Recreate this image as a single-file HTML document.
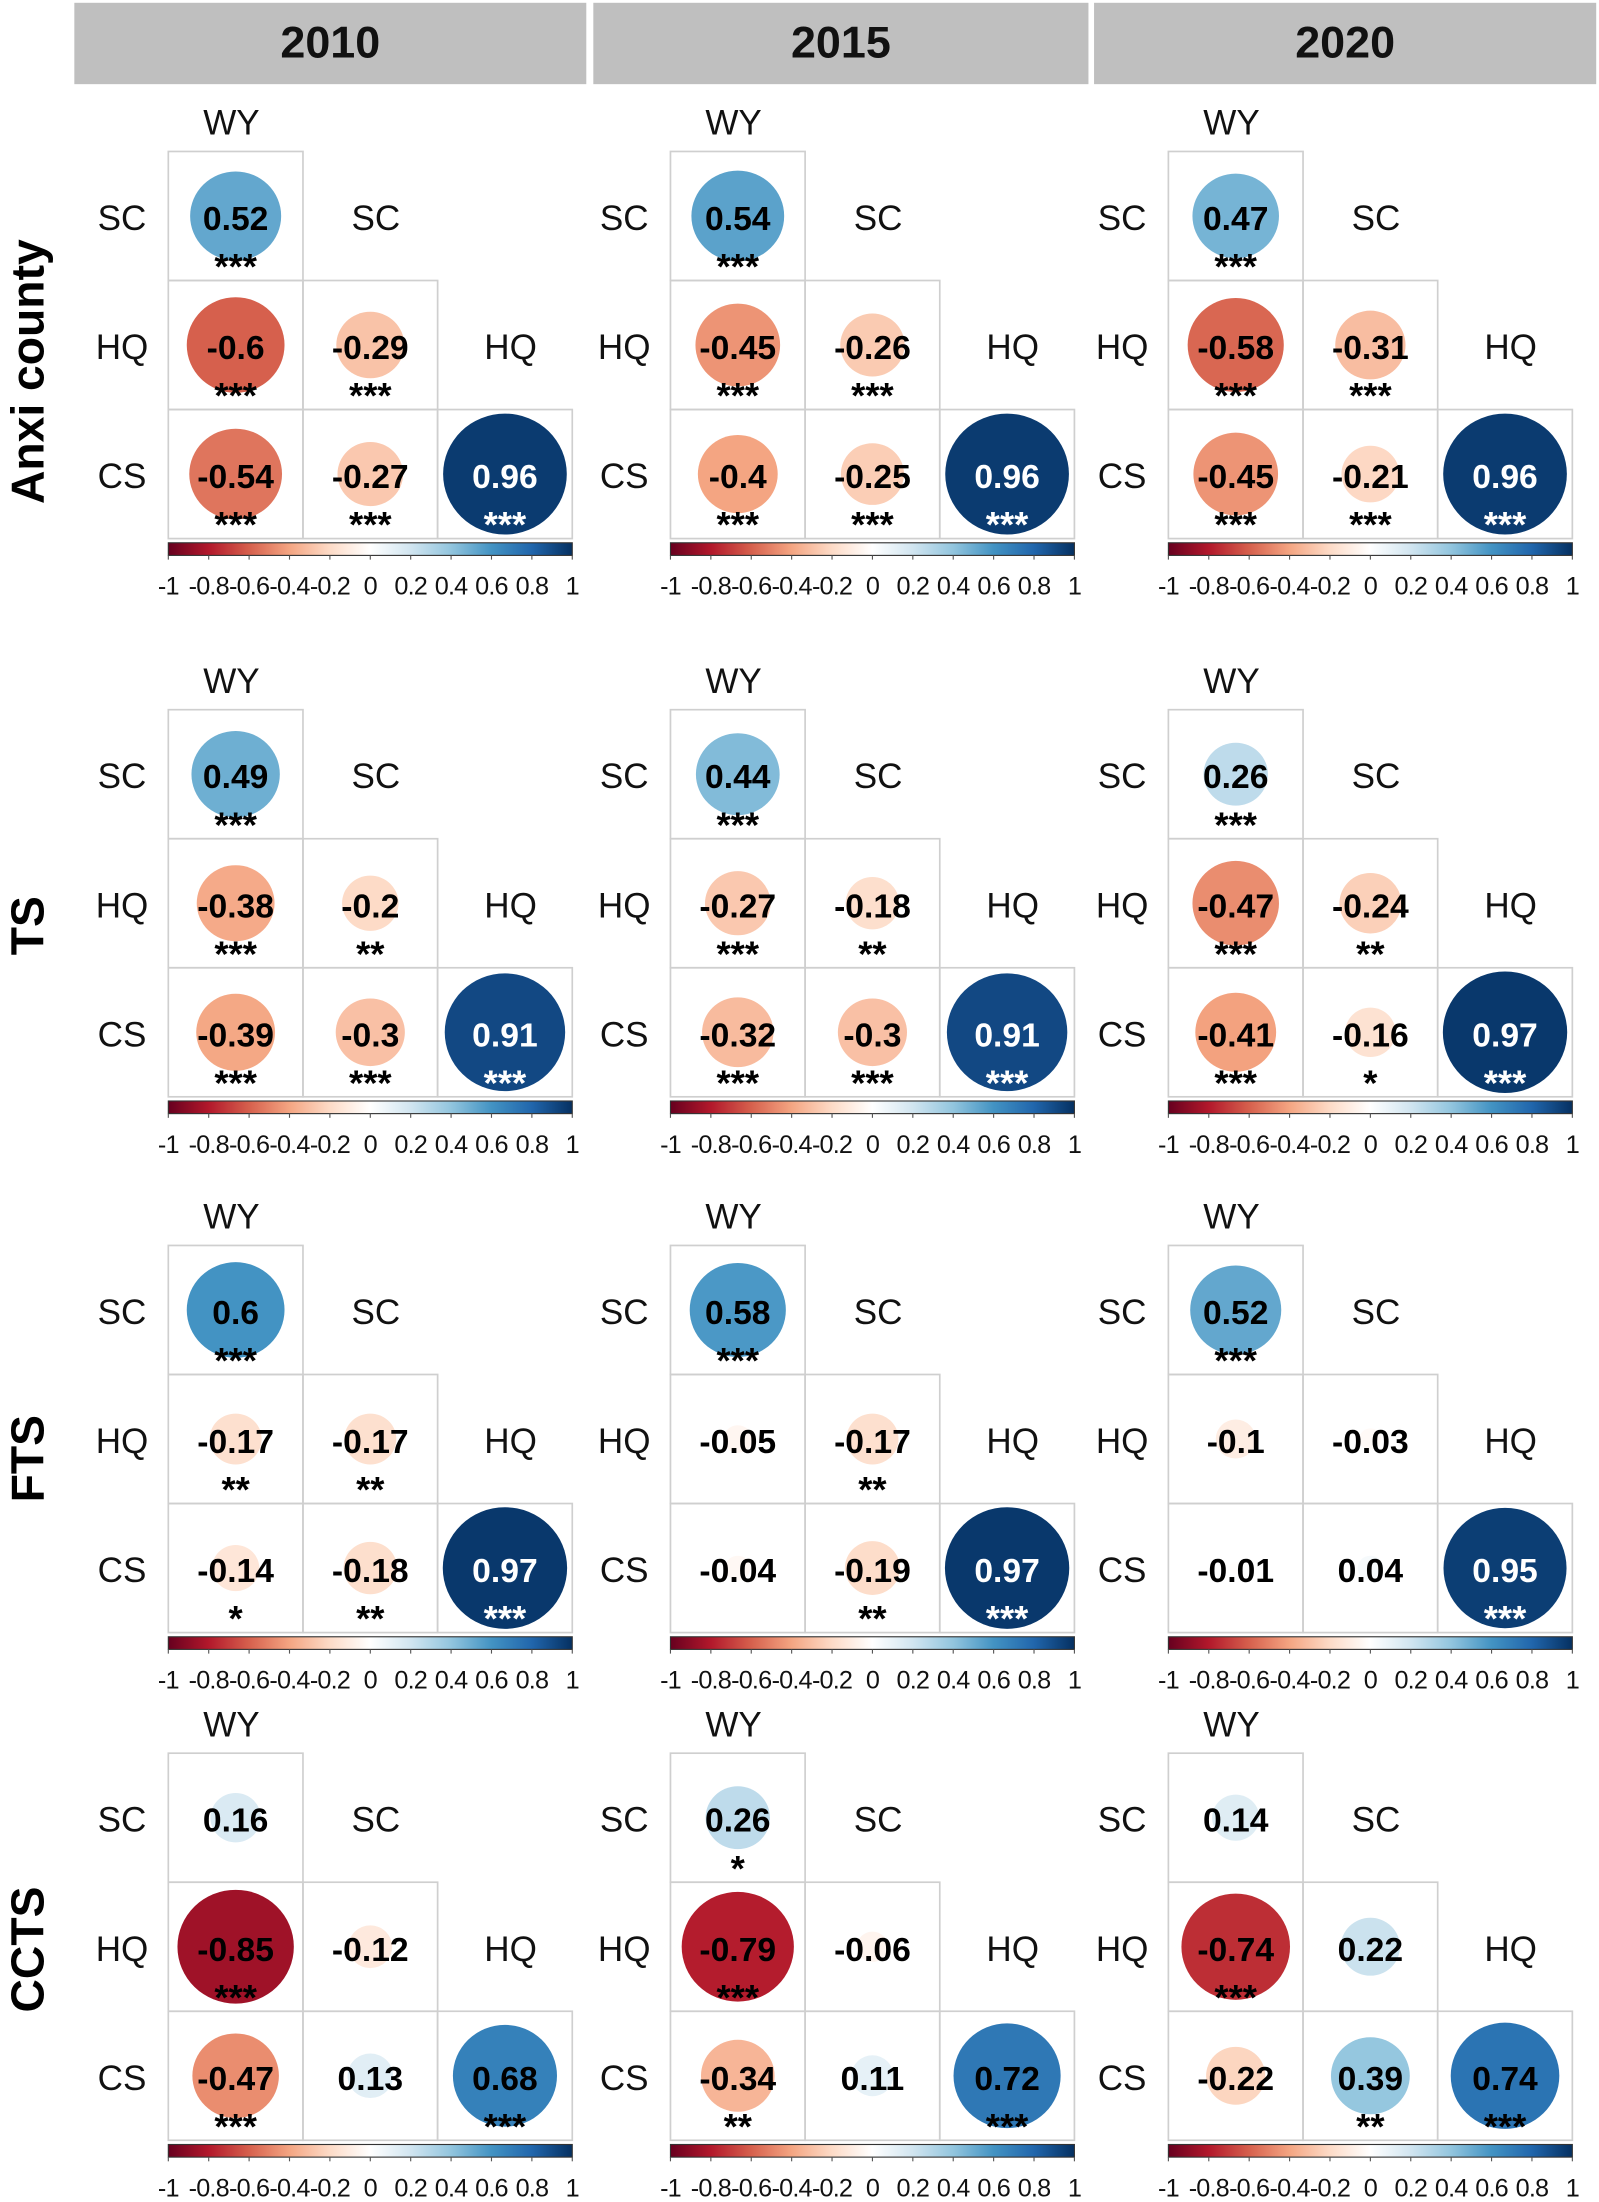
<!DOCTYPE html>
<html><head><meta charset="utf-8"><style>
html,body{margin:0;padding:0;background:#fff}
svg{display:block}
text{font-family:"Liberation Sans",Arial,sans-serif}
</style></head><body>
<svg id="chart" width="1599" height="2202" viewBox="0 0 1140 1570" preserveAspectRatio="none" xmlns="http://www.w3.org/2000/svg"></svg>
<script>
const years = ["2010","2015","2020"];
const regions = ["Anxi county","TS","FTS","CCTS"];
const vars = ["WY","SC","HQ","CS"];
// order per panel: SC-WY, HQ-WY, HQ-SC, CS-WY, CS-SC, CS-HQ
const anxiVals = [[0.52,-0.6,-0.29,-0.54,-0.27,0.96],[0.54,-0.45,-0.26,-0.4,-0.25,0.96],[0.47,-0.58,-0.31,-0.45,-0.21,0.96]];
const anxiSig = [["***","***","***","***","***","***"],["***","***","***","***","***","***"],["***","***","***","***","***","***"]];
const tsVals = [[0.49,-0.38,-0.2,-0.39,-0.3,0.91],[0.44,-0.27,-0.18,-0.32,-0.3,0.91],[0.26,-0.47,-0.24,-0.41,-0.16,0.97]];
const tsSig = [["***","***","**","***","***","***"],["***","***","**","***","***","***"],["***","***","**","***","*","***"]];
const ftsVals = [[0.6,-0.17,-0.17,-0.14,-0.18,0.97],[0.58,-0.05,-0.17,-0.04,-0.19,0.97],[0.52,-0.1,-0.03,-0.01,0.04,0.95]];
const ftsSig = [["***","**","**","*","**","***"],["***","","**","","**","***"],["***","","","","","***"]];
const cctsVals = [[0.16,-0.85,-0.12,-0.47,0.13,0.68],[0.26,-0.79,-0.06,-0.34,0.11,0.72],[0.14,-0.74,0.22,-0.22,0.39,0.74]];
const cctsSig = [["","***","","***","","***"],["*","***","","**","","***"],["","***","","","**","***"]];
const tickLabels = ["-1","-0.8","-0.6","-0.4","-0.2","0","0.2","0.4","0.6","0.8","1"];
const tickValues = [-1,-0.8,-0.6,-0.4,-0.2,0,0.2,0.4,0.6,0.8,1];

const allVals=[anxiVals,tsVals,ftsVals,cctsVals];
const allSig=[anxiSig,tsSig,ftsSig,cctsSig];
const pairs=[[1,0],[2,0],[2,1],[3,0],[3,1],[3,2]];

const NS="http://www.w3.org/2000/svg";
const svg=document.getElementById('chart');
function mk(tag,attrs,parent){const e=document.createElementNS(NS,tag);for(const k in attrs)e.setAttribute(k,attrs[k]);(parent||svg).appendChild(e);return e;}

const pal=["#67001F","#B2182B","#D6604D","#F4A582","#FDDBC7","#FFFFFF","#D1E5F0","#92C5DE","#4393C3","#2166AC","#053061"];
function hex(h){return [1,3,5].map(i=>parseInt(h.substr(i,2),16));}
function color(v){const t=(v+1)/2*(pal.length-1);const i=Math.min(pal.length-2,Math.floor(t));const f=t-i;const a=hex(pal[i]),b=hex(pal[i+1]);return "rgb("+a.map((x,k)=>Math.round(x+(b[k]-x)*f)).join(",")+")";}

const colX=[[53,418],[423,776],[780,1138]];
const gridLeft=[120,478,833];
const blockTop=[108,506,888,1250];
const cw=96, ch=92;

years.forEach((y,i)=>{
  const g=mk('g',{});
  
  
  mk('rect',{x:colX[i][0],y:2,width:colX[i][1]-colX[i][0],height:58,fill:'#bfbfbf'},g);
  const t=mk('text',{x:(colX[i][0]+colX[i][1])/2,y:41,'text-anchor':'middle','font-size':32,'font-weight':'bold',fill:'#111'},g);
  t.textContent=y;
});
const regionCy=[265,660,1040,1390];
regions.forEach((r,i)=>{
  const t=mk('text',{x:0,y:0,transform:`translate(31,${regionCy[i]}) rotate(-90)`,'text-anchor':'middle','font-size':33,'font-weight':'bold',fill:'#000'});
  
  
  t.textContent=r;
});

function xs(gx,c){return gx+c*cw+cw/2;}
function ys(gy,r){return gy+r*ch+ch/2;}

regions.forEach((reg,ri)=>{
  years.forEach((yr,yi)=>{
    const gx=gridLeft[yi], gy=blockTop[ri];
    const g=mk('g',{});
    
    
    let t=mk('text',{x:xs(gx,0)-3,y:gy-12,'text-anchor':'middle','font-size':25,fill:'#111'},g);
    t.textContent='WY';
    for(let r=0;r<3;r++){
      t=mk('text',{x:gx-33,y:ys(gy,r)+10,'text-anchor':'middle','font-size':25,fill:'#111'},g);
      
      
      t.textContent=vars[r+1];
      if(r<2){
        t=mk('text',{x:xs(gx,r+1)+4,y:ys(gy,r)+10,'text-anchor':'middle','font-size':25,fill:'#111'},g);
        
        
        t.textContent=vars[r+1];
      }
    }
    const vals=allVals[ri][yi], sig=allSig[ri][yi];
    pairs.forEach((p,k)=>{
      const r=p[0]-1, c=p[1];
      const cx=xs(gx,c), cy=ys(gy,r), v=vals[k];
      const cell=mk('g',{},g);
      
      
      mk('rect',{x:gx+c*cw,y:gy+r*ch,width:cw,height:ch,fill:'none',stroke:'#cfcfcf','stroke-width':1.2},cell);
      const s=Math.sqrt(Math.abs(v));
      mk('ellipse',{cx:cx,cy:cy,rx:45*s,ry:44*s,fill:color(v)},cell);
      const light=Math.abs(v)>=0.85 && v>0;
      let tt=mk('text',{x:cx,y:cy+10,'text-anchor':'middle','font-size':24,'font-weight':'bold',fill:light?'#fff':'#000'},cell);
      tt.textContent=String(v);
      if(sig[k]){
        tt=mk('text',{x:cx,y:cy+45,'text-anchor':'middle','font-size':26,'font-weight':'bold',fill:light?'#fff':'#000'},cell);
        tt.textContent=sig[k];
      }
    });
    const cb=mk('g',{},g);
    
    
    const gid='grad'+ri+'_'+yi;
    const lg=mk('linearGradient',{id:gid,x1:0,x2:1,y1:0,y2:0},cb);
    pal.forEach((c,i)=>mk('stop',{offset:i/(pal.length-1),'stop-color':c},lg));
    const barL=gx, barR=gx+3*cw, by=gy+3*ch+3;
    mk('rect',{x:barL,y:by,width:barR-barL,height:9,fill:`url(#${gid})`,stroke:'#333','stroke-width':0.8},cb);
    tickValues.forEach((tv,i)=>{
      const tx=barL+(tv+1)/2*(barR-barL);
      mk('line',{x1:tx,x2:tx,y1:by+9,y2:by+12,stroke:'#555','stroke-width':0.8},cb);
      const lt=mk('text',{x:tx,y:by+37,'text-anchor':'middle','font-size':18,'letter-spacing':'-0.6',fill:'#111'},cb);
      lt.textContent=tickLabels[i];
    });
  });
});
</script>
</body></html>
